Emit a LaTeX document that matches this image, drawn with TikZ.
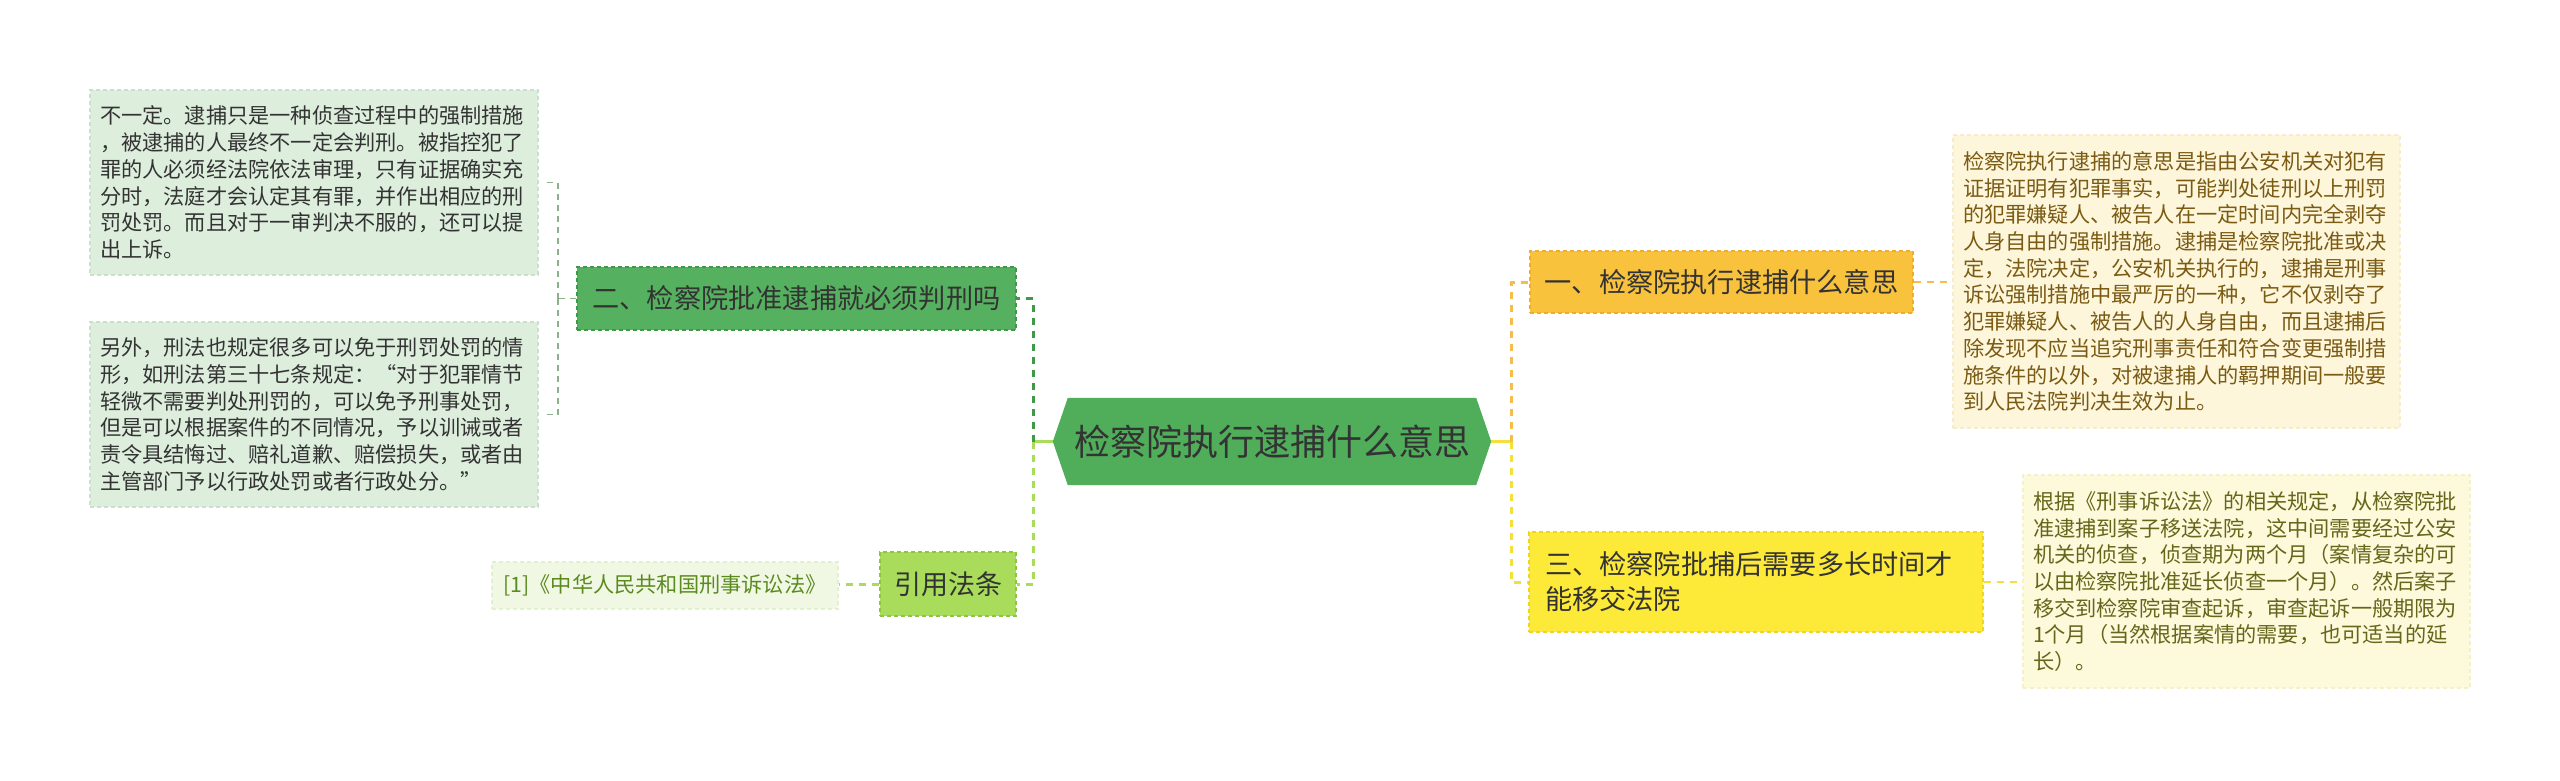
\documentclass[tikz,border=0pt]{standalone}
\usepackage{fontspec}
\setmainfont{Noto Sans CJK SC}
\usetikzlibrary{backgrounds}
\definecolor{dark}{HTML}{333333}
\definecolor{hexfill}{HTML}{50AE5A}
\definecolor{twofill}{HTML}{55B15F}
\definecolor{twodraw}{HTML}{3E9A49}
\definecolor{lawfill}{HTML}{A8DC5A}
\definecolor{lawdraw}{HTML}{8CC63F}
\definecolor{citefill}{HTML}{F0F8E4}
\definecolor{citedraw}{HTML}{E2F0D2}
\definecolor{citetext}{HTML}{5B8A1F}
\definecolor{lbfill}{HTML}{DDEEDD}
\definecolor{lbdraw}{HTML}{CBE0CB}
\definecolor{onefill}{HTML}{F9C23C}
\definecolor{onedraw}{HTML}{EFAE2A}
\definecolor{threefill}{HTML}{FDE937}
\definecolor{threedraw}{HTML}{EFD520}
\definecolor{rtfill}{HTML}{FDF6DA}
\definecolor{rtdraw}{HTML}{F6EDC8}
\definecolor{rttext}{HTML}{7B5B14}
\definecolor{rbfill}{HTML}{FDFADB}
\definecolor{rbdraw}{HTML}{F5F0C6}
\definecolor{rbtext}{HTML}{66661A}
\definecolor{lconn}{HTML}{8DB08D}
\definecolor{orangeconn}{HTML}{F5BE4A}
\definecolor{yellowconn}{HTML}{F3E03A}
\begin{document}
\begin{tikzpicture}[x=1pt,y=-1pt,
  box/.style={rectangle, inner sep=0pt, dash pattern=on 4pt off 3pt, line width=1.2pt},
  txtbox/.style={box, font=\fontsize{21.2}{26.7}\selectfont, align=left, inner xsep=10pt},
  topic/.style={box, font=\fontsize{27.2}{35}\selectfont, text=dark},
  conn/.style={line width=3pt, dash pattern=on 7pt off 6pt},
  thinconn/.style={line width=1.5pt, dash pattern=on 6pt off 5pt, color=lconn}]
\useasboundingbox (0,0) rectangle (2560,780);

% center
\node[font=\fontsize{36}{40}\selectfont, text=dark, minimum width=438pt, minimum height=87pt, inner sep=0pt] (c) at (1272,441.5) {检察院执行逮捕什么意思};
\begin{pgfonlayer}{background}
\fill[white] (0,0) rectangle (2560,780);
\fill[hexfill] (c.west) -- ([xshift=15pt]c.north west) -- ([xshift=-15pt]c.north east) -- (c.east) -- ([xshift=-15pt]c.south east) -- ([xshift=15pt]c.south west) -- cycle;
\end{pgfonlayer}

% left side
\node[topic, fill=twofill, draw=twodraw, minimum width=439pt, minimum height=63pt] (n2) at (796.5,298.5) {二、检察院批准逮捕就必须判刑吗};
\node[topic, fill=lawfill, draw=lawdraw, minimum width=136pt, minimum height=64pt, font=\fontsize{27}{32}\selectfont] (law) at (948,584) {引用法条};
\node[box, fill=citefill, draw=citedraw, text=citetext, minimum width=346pt, minimum height=47pt, font=\fontsize{21.2}{26}\selectfont] (cite) at (665,585.5) {[1]《中华人民共和国刑事诉讼法》};

\node[txtbox, fill=lbfill, draw=lbdraw, text=dark, text width=428pt, minimum width=448pt, minimum height=185pt] (tl) at (314,182.5) {不一定。逮捕只是一种侦查过程中的强制措施\\，被逮捕的人最终不一定会判刑。被指控犯了\\罪的人必须经法院依法审理，只有证据确实充\\分时，法庭才会认定其有罪，并作出相应的刑\\罚处罚。而且对于一审判决不服的，还可以提\\出上诉。};
\node[txtbox, fill=lbfill, draw=lbdraw, text=dark, text width=428pt, minimum width=448pt, minimum height=185pt] (bl) at (314,414.5) {另外，刑法也规定很多可以免于刑罚处罚的情\\形，如刑法第三十七条规定：“对于犯罪情节\\轻微不需要判处刑罚的，可以免予刑事处罚，\\但是可以根据案件的不同情况，予以训诫或者\\责令具结悔过、赔礼道歉、赔偿损失，或者由\\主管部门予以行政处罚或者行政处分。”};

% right side
\node[topic, fill=onefill, draw=onedraw, minimum width=383pt, minimum height=62pt] (n1) at (1721.5,282) {一、检察院执行逮捕什么意思};
\node[topic, fill=threefill, draw=threedraw, minimum width=454pt, minimum height=100pt, align=left, text width=422pt, inner xsep=16pt] (n3) at (1756,582) {三、检察院批捕后需要多长时间才\\能移交法院};

\node[txtbox, fill=rtfill, draw=rtdraw, text=rttext, text width=427pt, minimum width=447pt, minimum height=293pt] (rt) at (2176.5,281.5) {检察院执行逮捕的意思是指由公安机关对犯有\\证据证明有犯罪事实，可能判处徒刑以上刑罚\\的犯罪嫌疑人、被告人在一定时间内完全剥夺\\人身自由的强制措施。逮捕是检察院批准或决\\定，法院决定，公安机关执行的，逮捕是刑事\\诉讼强制措施中最严厉的一种，它不仅剥夺了\\犯罪嫌疑人、被告人的人身自由，而且逮捕后\\除发现不应当追究刑事责任和符合变更强制措\\施条件的以外，对被逮捕人的羁押期间一般要\\到人民法院判决生效为止。};
\node[txtbox, fill=rbfill, draw=rbdraw, text=rbtext, text width=427pt, minimum width=447pt, minimum height=213pt] (rb) at (2246.5,581.5) {根据《刑事诉讼法》的相关规定，从检察院批\\准逮捕到案子移送法院，这中间需要经过公安\\机关的侦查，侦查期为两个月（案情复杂的可\\以由检察院批准延长侦查一个月）。然后案子\\移交到检察院审查起诉，审查起诉一般期限为\\1个月（当然根据案情的需要，也可适当的延\\长）。};

% connector junctions
\coordinate (lv) at (1033,441.5);
\coordinate (rv) at (1511,441.5);
\coordinate (lbv) at (558,298.5);

% connectors
\draw[line width=3pt, lawfill] (c.west) -- (lv);
\draw[conn, twodraw] (lv) |- (n2.east);
\draw[conn, lawfill] (lv) |- (law.east);
\draw[conn, lawfill] (law.west) -- (law.west -| cite.east);
\draw[thinconn] (n2.west) -- (lbv);
\draw[thinconn] (lbv) |- ([xshift=6pt]tl.east);
\draw[thinconn] (lbv) |- ([xshift=6pt]bl.east);

\draw[line width=3pt, yellowconn] (c.east) -- (rv);
\draw[conn, orangeconn] (rv) |- (n1.west);
\draw[conn, yellowconn] (rv) |- (n3.west);
\draw[line width=2pt, dash pattern=on 7pt off 6pt, orangeconn] (n1.east) -- (n1.east -| rt.west);
\draw[line width=2pt, dash pattern=on 7pt off 6pt, yellowconn] (n3.east) -- (n3.east -| rb.west);
\end{tikzpicture}
\end{document}
